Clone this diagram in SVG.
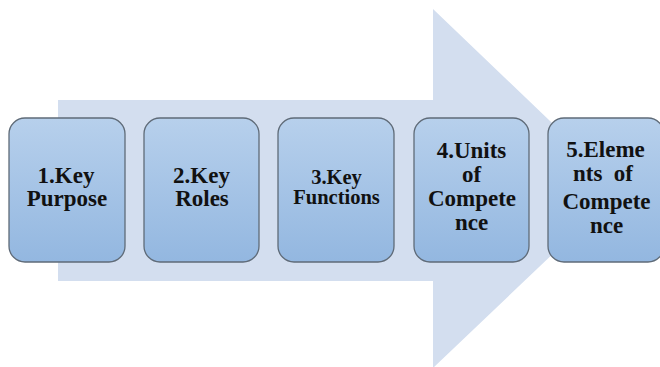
<svg xmlns="http://www.w3.org/2000/svg" width="660" height="367" viewBox="0 0 660 367">
<defs>
<linearGradient id="g" x1="0" y1="0" x2="0" y2="1">
<stop offset="0" stop-color="#b7d0ec"/>
<stop offset="1" stop-color="#93b7e0"/>
</linearGradient>
<style>
.box{fill:url(#g);stroke:#5f6b78;stroke-width:1.3}
.t{font-family:'Liberation Serif','Times New Roman',serif;font-weight:bold;font-size:23px;fill:#111;text-anchor:middle}
.s{font-size:20.5px}
</style>
</defs>
<rect width="660" height="367" fill="#fff"/>
<g id="arrow">
<polygon points="58,100 433,100 433,9 621,189 433,368 433,281 58,281" fill="#d3deef"/>
</g>
<g id="connectors"></g>
<g id="n1">
<rect class="box" x="9" y="118" width="116" height="144" rx="16"/>
<text class="t" x="66" y="183">1.Key</text>
<text class="t" x="67" y="206">Purpose</text>
</g>
<g id="n2">
<rect class="box" x="144" y="118" width="115" height="144" rx="16"/>
<text class="t" x="201.5" y="183">2.Key</text>
<text class="t" x="202" y="206">Roles</text>
</g>
<g id="n3">
<rect class="box" x="278" y="118" width="116" height="144" rx="16"/>
<text class="t s" x="336.5" y="184">3.Key</text>
<text class="t s" x="336.5" y="204">Functions</text>
</g>
<g id="n4">
<rect class="box" x="414" y="118" width="115" height="144" rx="16"/>
<text class="t" x="471.5" y="158">4.Units</text>
<text class="t" x="471.5" y="182">of</text>
<text class="t" x="472" y="206">Compete</text>
<text class="t" x="471.5" y="230">nce</text>
</g>
<g id="n5">
<rect class="box" x="548" y="118" width="116" height="144" rx="16"/>
<text class="t" x="605.5" y="157">5.Eleme</text>
<text class="t" x="603" y="181" xml:space="preserve">nts  of</text>
<text class="t" x="606.5" y="209">Compete</text>
<text class="t" x="606.5" y="233">nce</text>
</g>
</svg>
